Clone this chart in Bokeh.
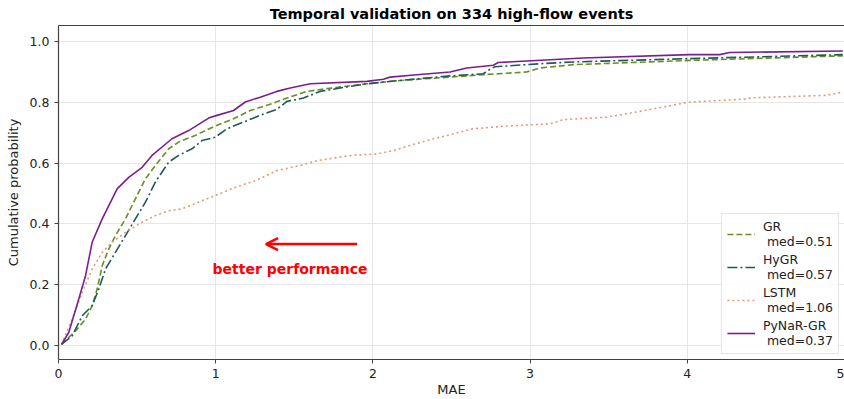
from bokeh.plotting import figure
from bokeh.models import ColumnDataSource, Legend, LegendItem, Arrow, OpenHead, Label, LinearAxis, FixedTicker, PrintfTickFormatter, Range1d
from bokeh.embed import file_html
from bokeh.resources import INLINE

title_text = "Temporal validation on 334 high-flow events"
x_label = "MAE"
y_label = "Cumulative probability"

series_names = ["GR", "HyGR", "LSTM", "PyNaR-GR"]
medians = [0.51, 0.57, 1.06, 0.37]

gr_x = [0.019, 0.108, 0.172, 0.214, 0.246, 0.278, 0.320, 0.362, 0.426, 0.489, 0.553, 0.616, 0.701, 0.764, 0.870, 0.997,
        1.114, 1.220, 1.326, 1.453, 1.580, 1.707, 1.961, 2.173, 2.490, 2.702, 2.978, 3.062, 3.274, 4.015, 4.989]
gr_y = [0.003, 0.047, 0.086, 0.130, 0.185, 0.262, 0.317, 0.361, 0.416, 0.482, 0.548, 0.592, 0.647, 0.669, 0.691, 0.722,
        0.746, 0.773, 0.790, 0.814, 0.836, 0.845, 0.861, 0.872, 0.883, 0.891, 0.900, 0.913, 0.924, 0.938, 0.953]

hygr_x = [0.019, 0.087, 0.151, 0.214, 0.256, 0.299, 0.362, 0.426, 0.489, 0.553, 0.616, 0.701, 0.764, 0.849, 0.913, 0.997,
          1.072, 1.177, 1.283, 1.389, 1.453, 1.558, 1.664, 1.792, 1.961, 2.173, 2.490, 2.702, 2.745, 2.776, 3.062, 3.274,
          4.015, 4.989]
hygr_y = [0.003, 0.031, 0.097, 0.130, 0.185, 0.251, 0.306, 0.361, 0.416, 0.471, 0.537, 0.603, 0.625, 0.647, 0.674, 0.685,
          0.713, 0.735, 0.757, 0.777, 0.803, 0.814, 0.836, 0.847, 0.861, 0.872, 0.887, 0.894, 0.909, 0.917, 0.927, 0.933,
          0.944, 0.957]

lstm_x = [0.019, 0.087, 0.151, 0.214, 0.278, 0.341, 0.426, 0.532, 0.616, 0.701, 0.786, 0.891, 0.997, 1.125, 1.252,
          1.389, 1.537, 1.644, 1.858, 2.025, 2.130, 2.236, 2.384, 2.490, 2.639, 2.851, 3.126, 3.210, 3.486, 3.698,
          4.015, 4.354, 4.417, 4.884, 4.989]
lstm_y = [0.003, 0.086, 0.174, 0.251, 0.306, 0.339, 0.372, 0.405, 0.427, 0.443, 0.449, 0.471, 0.493, 0.520, 0.542,
          0.575, 0.592, 0.608, 0.625, 0.630, 0.641, 0.658, 0.680, 0.693, 0.713, 0.722, 0.729, 0.743, 0.751, 0.770,
          0.801, 0.810, 0.815, 0.823, 0.834]

pynar_x = [0.019, 0.065, 0.129, 0.172, 0.214, 0.278, 0.373, 0.447, 0.532, 0.595, 0.722, 0.828, 0.955, 1.008, 1.114,
           1.188, 1.283, 1.389, 1.474, 1.601, 1.961, 2.067, 2.109, 2.279, 2.490, 2.597, 2.766, 2.797, 3.337, 4.015,
           4.206, 4.269, 4.989]
pynar_y = [0.003, 0.042, 0.152, 0.229, 0.339, 0.416, 0.515, 0.553, 0.586, 0.625, 0.680, 0.707, 0.748, 0.757, 0.773,
           0.801, 0.817, 0.836, 0.847, 0.861, 0.869, 0.876, 0.883, 0.891, 0.900, 0.913, 0.922, 0.931, 0.946, 0.957,
           0.957, 0.964, 0.969]

x_ticks = [0, 1, 2, 3, 4, 5]
y_ticks = [0.0, 0.2, 0.4, 0.6, 0.8, 1.0]

colors = ["#6b8e23", "#1f5a5a", "#e9967a", "#7b1f8c"]
dashes = ["6 3", "10 3 2 3", "2 3", "solid"]

FONT = "DejaVu Sans"

p = figure(width=844, height=399, output_backend="svg", toolbar_location=None,
           x_range=Range1d(0, 5), y_range=Range1d(-0.047, 1.053),
           min_border_left=58, min_border_right=0, min_border_top=7, min_border_bottom=0)
p.title.text = title_text
p.title.align = "center"
p.title.text_font = FONT
p.title.text_font_size = "14.5px"
p.title.text_font_style = "bold"
p.title.text_color = "#000000"
p.title.standoff = 7
p.outline_line_color = None

p.xaxis.ticker = FixedTicker(ticks=x_ticks)
p.yaxis.ticker = FixedTicker(ticks=y_ticks)
p.yaxis.formatter = PrintfTickFormatter(format="%.1f")
p.xaxis.axis_label = x_label
p.yaxis.axis_label = y_label
for ax in (p.xaxis[0], p.yaxis[0]):
    ax.axis_label_text_font = FONT
    ax.axis_label_text_font_size = "13px"
    ax.axis_label_text_font_style = "normal"
    ax.axis_label_text_color = "#222222"
    ax.major_label_text_font = FONT
    ax.major_label_text_font_size = "12.5px"
    ax.major_label_text_color = "#222222"
    ax.axis_line_color = "#444444"
    ax.axis_line_width = 1.2
    ax.major_tick_line_color = "#444444"
    ax.major_tick_in = 0
    ax.major_tick_out = 4
    ax.minor_tick_line_color = None
p.xaxis.axis_label_standoff = 1
p.yaxis.axis_label_standoff = 6

top_axis = LinearAxis(major_tick_line_color=None, minor_tick_line_color=None,
                      major_label_text_font_size="0px", axis_line_color="#444444", axis_line_width=1.2,
                      ticker=FixedTicker(ticks=[]))
p.add_layout(top_axis, "above")

p.grid.grid_line_color = "#e6e6e6"
p.grid.grid_line_width = 1

xs = [gr_x, hygr_x, lstm_x, pynar_x]
ys = [gr_y, hygr_y, lstm_y, pynar_y]
items = []
for name, med, x, y, c, d in zip(series_names, medians, xs, ys, colors, dashes):
    src = ColumnDataSource(dict(x=x, y=y))
    r = p.line("x", "y", source=src, line_color=c, line_width=1.6, line_dash=d)
    items.append(LegendItem(label=f"{name}\n med={med:.2f}", renderers=[r]))

legend = Legend(items=items, location="bottom_right")
legend.label_text_font = FONT
legend.label_text_font_size = "12.5px"
legend.label_text_color = "#222222"
legend.label_text_line_height = 1.0
legend.glyph_width = 28
legend.glyph_height = 28
legend.label_height = 28
legend.label_standoff = 8
legend.spacing = 3
legend.padding = 5
legend.margin = 5
legend.border_line_color = "#cccccc"
legend.background_fill_alpha = 0.85
p.add_layout(legend)

p.add_layout(Arrow(end=OpenHead(line_color="red", line_width=2.5, size=12), line_color="red", line_width=2.5,
                   x_start=1.9, y_start=0.333, x_end=1.32, y_end=0.333))
p.add_layout(Label(x=0.98, y=0.251, text="better performance", text_color="red", text_font=FONT,
                   text_font_size="14px", text_font_style="bold", text_baseline="middle"))

open("out.html", "w").write(file_html(p, INLINE))
